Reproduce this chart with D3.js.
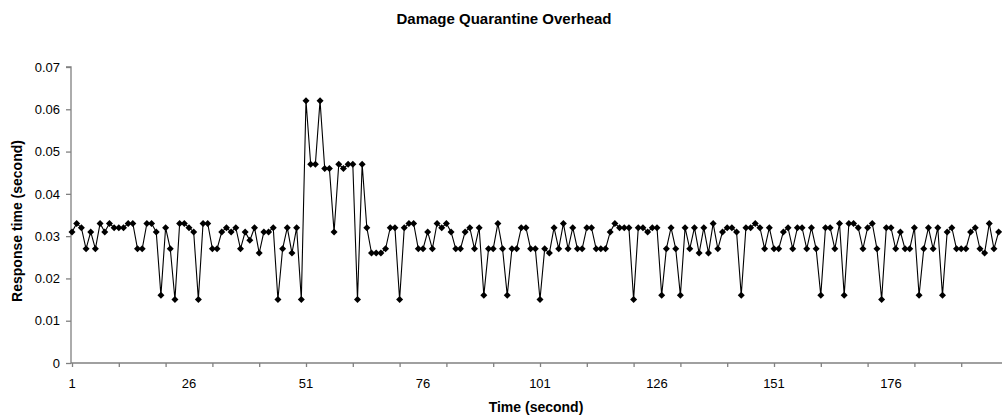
<!DOCTYPE html>
<html>
<head>
<meta charset="utf-8">
<script src="https://cdn.jsdelivr.net/npm/d3@7"></script>
<style>
  html, body { margin: 0; padding: 0; background: #fff; }
  svg { display: block; font-family: "Liberation Sans", Arial, sans-serif; }
</style>
</head>
<body>
<svg id="chart" width="1002" height="419"></svg>
<script>
// Response time per second (s), seconds 1..199
const responseTime = [
  0.031, 0.033, 0.032, 0.027, 0.031, 0.027, 0.033, 0.031, 0.033, 0.032,
  0.032, 0.032, 0.033, 0.033, 0.027, 0.027, 0.033, 0.033, 0.031, 0.016,
  0.032, 0.027, 0.015, 0.033, 0.033, 0.032, 0.031, 0.015, 0.033, 0.033,
  0.027, 0.027, 0.031, 0.032, 0.031, 0.032, 0.027, 0.031, 0.029, 0.032,
  0.026, 0.031, 0.031, 0.032, 0.015, 0.027, 0.032, 0.026, 0.032, 0.015,
  0.062, 0.047, 0.047, 0.062, 0.046, 0.046, 0.031, 0.047, 0.046, 0.047,
  0.047, 0.015, 0.047, 0.032, 0.026, 0.026, 0.026, 0.027, 0.032, 0.032,
  0.015, 0.032, 0.033, 0.033, 0.027, 0.027, 0.031, 0.027, 0.033, 0.032,
  0.033, 0.031, 0.027, 0.027, 0.031, 0.032, 0.027, 0.032, 0.016, 0.027,
  0.027, 0.033, 0.027, 0.016, 0.027, 0.027, 0.032, 0.032, 0.027, 0.027,
  0.015, 0.027, 0.026, 0.032, 0.027, 0.033, 0.027, 0.032, 0.027, 0.027,
  0.032, 0.032, 0.027, 0.027, 0.027, 0.031, 0.033, 0.032, 0.032, 0.032,
  0.015, 0.032, 0.032, 0.031, 0.032, 0.032, 0.016, 0.027, 0.032, 0.027,
  0.016, 0.032, 0.027, 0.032, 0.026, 0.032, 0.026, 0.033, 0.027, 0.031,
  0.032, 0.032, 0.031, 0.016, 0.032, 0.032, 0.033, 0.032, 0.027, 0.032,
  0.027, 0.027, 0.031, 0.032, 0.027, 0.032, 0.032, 0.027, 0.032, 0.027,
  0.016, 0.032, 0.032, 0.027, 0.033, 0.016, 0.033, 0.033, 0.032, 0.027,
  0.032, 0.033, 0.027, 0.015, 0.032, 0.032, 0.027, 0.031, 0.027, 0.027,
  0.032, 0.016, 0.027, 0.032, 0.027, 0.032, 0.016, 0.031, 0.032, 0.027,
  0.027, 0.027, 0.031, 0.032, 0.027, 0.026, 0.033, 0.027, 0.031
];
const seconds = responseTime.map((_, i) => i + 1);

const yTicks = [0, 0.01, 0.02, 0.03, 0.04, 0.05, 0.06, 0.07];
const xTickMarks = d3.range(1, 200, 10);        // 1, 11, 21, ...
const xTickLabels = [1, 26, 51, 76, 101, 126, 151, 176];

const titleText = "Damage Quarantine Overhead";
const xTitle = "Time (second)";
const yTitle = "Response time (second)";

const svg = d3.select("#chart");
const plotLeft = 71, plotTop = 67, plotBottom = 363;
const step = 4.68;

const x = d3.scaleLinear().domain([1, 200]).range([plotLeft + 1, plotLeft + 1 + 199 * step]);
const y = d3.scaleLinear().domain([0, 0.07]).range([plotBottom, plotTop]);

const axisColor = "#808080";

// Y axis
const yAxis = svg.append("g")
  .attr("transform", `translate(${plotLeft},0)`)
  .call(d3.axisLeft(y).tickValues(yTicks).tickSize(5).tickPadding(6)
    .tickFormat(d => d === 0 ? "0" : d3.format(".2f")(d)));
yAxis.select(".domain").attr("stroke", axisColor).attr("stroke-width", 1.3)
  .attr("d", `M-5,${y(0.07)}H0V${plotBottom}`);
yAxis.selectAll(".tick line").attr("stroke", axisColor).attr("stroke-width", 1.3);
yAxis.selectAll(".tick text").attr("font-size", 13).attr("fill", "#000")
  .attr("font-family", "Liberation Sans, Arial, sans-serif");

// X axis: tick marks every 10 seconds, labels every 25
const xAxis = svg.append("g")
  .attr("transform", `translate(0,${plotBottom})`)
  .call(d3.axisBottom(x).tickValues(xTickMarks).tickSize(4).tickFormat(""));
xAxis.select(".domain").attr("stroke", axisColor).attr("stroke-width", 1.3)
  .attr("d", `M${plotLeft},0H1002`);
xAxis.selectAll(".tick line").attr("stroke", axisColor).attr("stroke-width", 1.3);

svg.append("g").selectAll("text")
  .data(xTickLabels)
  .join("text")
  .attr("x", d => x(d))
  .attr("y", plotBottom + 25)
  .attr("text-anchor", "middle")
  .attr("font-size", 13)
  .attr("fill", "#000")
  .text(d => d);

// Series line
const line = d3.line()
  .x((d, i) => x(seconds[i]))
  .y(d => y(d));

svg.append("path")
  .datum(responseTime)
  .attr("fill", "none")
  .attr("stroke", "#000")
  .attr("stroke-width", 1.1)
  .attr("d", line);

// Diamond markers
const r = 3.5;
svg.append("g").selectAll("path")
  .data(responseTime)
  .join("path")
  .attr("transform", (d, i) => `translate(${x(seconds[i])},${y(d)})`)
  .attr("d", `M0,${-r}L${r},0L0,${r}L${-r},0Z`)
  .attr("fill", "#000");

// Titles
svg.append("text")
  .attr("x", 504).attr("y", 23.5)
  .attr("text-anchor", "middle")
  .attr("font-size", 15).attr("font-weight", "bold")
  .text(titleText);

svg.append("text")
  .attr("x", 536).attr("y", 412)
  .attr("text-anchor", "middle")
  .attr("font-size", 14).attr("font-weight", "bold")
  .text(xTitle);

svg.append("text")
  .attr("transform", "translate(21.5,221) rotate(-90)")
  .attr("text-anchor", "middle")
  .attr("font-size", 14).attr("font-weight", "bold")
  .text(yTitle);
</script>
</body>
</html>
